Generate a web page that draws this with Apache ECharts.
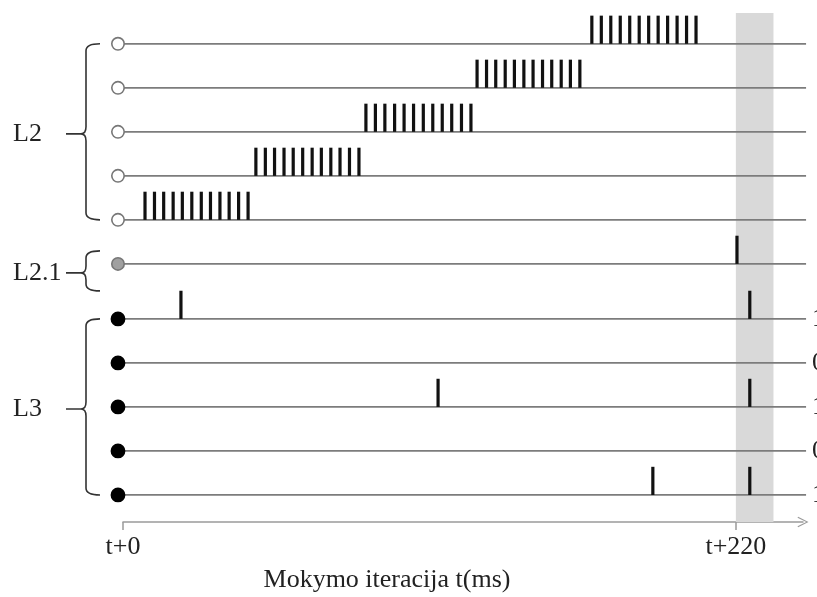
<!DOCTYPE html>
<html><head><meta charset="utf-8">
<script src="https://cdn.jsdelivr.net/npm/echarts@6/dist/echarts.min.js"></script>
<style>html,body{margin:0;padding:0;background:#fff}#c{width:817px;height:597px}</style>
</head><body><div id="c"></div>
<script>
// Rows, top to bottom
const rowNames  = ['L2-1','L2-2','L2-3','L2-4','L2-5','L2.1','L3-1','L3-2','L3-3','L3-4','L3-5'];
const rowGroups = ['L2','L2','L2','L2','L2','L2.1','L3','L3','L3','L3','L3'];
const groupLabels = ['L2','L2.1','L3'];

// Spike times (ms) for every row
const spikesL2_1 = [168.3,171.7,175.1,178.5,181.9,185.3,188.7,192.1,195.5,198.9,202.3,205.7];
const spikesL2_2 = [127.1,130.5,133.8,137.2,140.5,143.9,147.2,150.6,153.9,157.3,160.6,164.0];
const spikesL2_3 = [87.2,90.6,94.0,97.5,100.9,104.3,107.8,111.2,114.6,118.0,121.5,124.9];
const spikesL2_4 = [47.7,51.1,54.4,57.8,61.1,64.5,67.9,71.2,74.6,77.9,81.3,84.7];
const spikesL2_5 = [7.9,11.3,14.6,18.0,21.3,24.7,28.1,31.4,34.8,38.1,41.5,44.9];
const spikesL21  = [220.4];
const spikesL3_1 = [20.8, 225.0];
const spikesL3_2 = [];
const spikesL3_3 = [113.1, 225.0];
const spikesL3_4 = [];
const spikesL3_5 = [190.2, 225.0];
const rowSpikes = [spikesL2_1,spikesL2_2,spikesL2_3,spikesL2_4,spikesL2_5,spikesL21,spikesL3_1,spikesL3_2,spikesL3_3,spikesL3_4,spikesL3_5];

const windowRange = [220, 233.5];
const tickValues = [0, 220];
const outputLabels = ['1','0','1','0','1'];
const axisTitle = 'Mokymo iteracija t(ms)';

// row levels (bottom row = 1, extra gap between L3 and L2.1)
const n = rowNames.length;
const levels = new Array(n);
let lv = 1;
for (let i = n - 1; i >= 0; i--) {
  if (i < n - 1 && rowGroups[i + 1] === 'L3' && rowGroups[i] !== 'L3') lv += 0.25;
  levels[i] = lv; lv += 1;
}

const FONT = 'Liberation Serif';
const lineStart = -1.8, lineEnd = 245.2, spikeH = 0.64;

const rowData = rowNames.map((nm, i) => [i, levels[i]]);
const spikeData = [];
rowSpikes.forEach((arr, i) => arr.forEach(t => spikeData.push([t, levels[i]])));
const groupData = groupLabels.map((g, k) => {
  const idx = rowGroups.map((gg, i) => gg === g ? i : -1).filter(i => i >= 0);
  return [k, levels[idx[0]], levels[idx[idx.length - 1]]];
});

const chart = echarts.init(document.getElementById('c'), null, {renderer: 'canvas'});
const chevron = 'path://M0,10 L5,0 L10,10 L9.1,10.6 L5,2.2 L0.9,10.6 Z';

const bx = 86, hook = 14, tipX = 81, dashX = 66;
function braceGeom(api, topLv, botLv) {
  let top = api.coord([0, topLv])[1], bot = api.coord([0, botLv])[1];
  if (topLv === botLv) { top -= 13; bot += 27; }
  const mid = (top + bot) / 2 + 2;
  return {top, bot, mid};
}

chart.setOption({
  animation: false,
  backgroundColor: '#fff',
  grid: {left: 123, right: 14, top: 13, bottom: 75},
  xAxis: {
    type: 'value', min: 0, max: 244.1,
    splitLine: {show: false},
    axisLine: {show: true, lineStyle: {color: '#9a9a9a', width: 1.5},
      symbol: ['none', chevron], symbolSize: [16, 11]},
    axisTick: {show: true, customValues: tickValues, length: 8, lineStyle: {color: '#9a9a9a', width: 1.5}},
    axisLabel: {show: true, customValues: tickValues, formatter: v => 't+' + v,
      fontFamily: FONT, fontSize: 26, color: '#222', margin: 12}
  },
  yAxis: {type: 'value', min: 0.386, max: 11.95, show: false},
  series: [
    {
      type: 'line', data: [], z: 0, silent: true,
      markArea: {silent: true, itemStyle: {color: '#d9d9d9'},
        data: [[{xAxis: windowRange[0]}, {xAxis: windowRange[1]}]]}
    },
    {
      type: 'custom', z: 3, clip: false, data: rowData,
      renderItem: (params, api) => {
        const i = api.value(0), y = api.value(1);
        const p0 = api.coord([lineStart, y]), p1 = api.coord([lineEnd, y]);
        const g = rowGroups[i];
        let fill = '#fff', stroke = '#777', r = 6.2;
        if (g === 'L2.1') { fill = '#a0a0a0'; stroke = '#777'; }
        if (g === 'L3') { fill = '#000'; stroke = '#000'; r = 6.6; }
        const children = [
          {type: 'line', shape: {x1: p0[0], y1: p0[1], x2: p1[0], y2: p1[1]},
            style: {stroke: '#7c7c7c', lineWidth: 1.8}},
          {type: 'circle', shape: {cx: p0[0], cy: p0[1], r: r},
            style: {fill: fill, stroke: stroke, lineWidth: 1.6}}
        ];
        if (g === 'L3') {
          const k = rowGroups.slice(0, i).filter(x => x === 'L3').length;
          children.push({type: 'text', x: 812, y: p0[1],
            style: {text: outputLabels[k], font: `26px "${FONT}"`, fill: '#222', verticalAlign: 'middle', align: 'left'}});
        }
        return {type: 'group', children: children};
      }
    },
    {
      type: 'custom', z: 4, clip: false, data: spikeData,
      renderItem: (params, api) => {
        const t = api.value(0), y = api.value(1);
        const b = api.coord([t, y]), tp = api.coord([t, y + spikeH]);
        return {type: 'rect', shape: {x: b[0] - 1.6, y: tp[1], width: 3.2, height: b[1] - tp[1]},
          style: {fill: '#111'}};
      }
    },
    {
      type: 'custom', z: 5, clip: false, data: groupData,
      renderItem: (params, api) => {
        const k = api.value(0);
        const {top, bot, mid} = braceGeom(api, api.value(1), api.value(2));
        const c = 7;
        const path = `M${bx + hook},${top} Q${bx},${top} ${bx},${top + c} L${bx},${mid - c} Q${bx},${mid} ${tipX},${mid} Q${bx},${mid} ${bx},${mid + c} L${bx},${bot - c} Q${bx},${bot} ${bx + hook},${bot} M${dashX},${mid} L${tipX},${mid}`;
        return {type: 'group', children: [
          {type: 'path', shape: {pathData: path}, style: {fill: 'none', stroke: '#333', lineWidth: 1.6}},
          {type: 'text', x: 13, y: mid, style: {text: groupLabels[k], font: `26px "${FONT}"`, fill: '#222', verticalAlign: 'middle', align: 'left'}}
        ]};
      }
    }
  ],
  graphic: [
    {type: 'text', x: 387, y: 580, style: {text: axisTitle, font: `26px "${FONT}"`, fill: '#222', verticalAlign: 'middle', align: 'center'}}
  ]
});
</script></body></html>
